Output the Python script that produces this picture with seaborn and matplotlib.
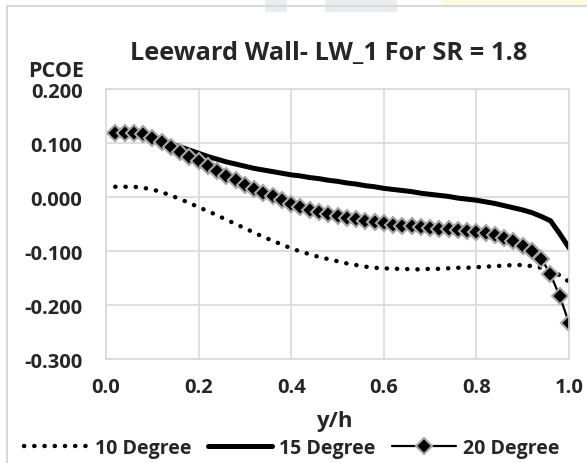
import numpy as np
import pandas as pd
import matplotlib
matplotlib.use("Agg")
import matplotlib.pyplot as plt
import seaborn as sns
from matplotlib.patches import Rectangle
from matplotlib.ticker import FormatStrFormatter, MultipleLocator

# y/h positions (same grid for all series)
y_h = [round(0.02 * i, 2) for i in range(1, 51)]

pcoe_10 = [0.019, 0.019, 0.019, 0.017, 0.014, 0.009, 0.003, -0.004, -0.011, -0.019,
           -0.026, -0.034, -0.042, -0.050, -0.058, -0.066, -0.074, -0.081, -0.088, -0.095,
           -0.101, -0.106, -0.111, -0.115, -0.119, -0.123, -0.126, -0.129, -0.131, -0.132,
           -0.133, -0.133, -0.134, -0.134, -0.133, -0.133, -0.132, -0.131, -0.131, -0.130,
           -0.129, -0.128, -0.127, -0.126, -0.126, -0.128, -0.131, -0.135, -0.145, -0.157]

pcoe_15 = [0.117, 0.118, 0.118, 0.115, 0.109, 0.103, 0.098, 0.093, 0.087, 0.081,
           0.075, 0.070, 0.065, 0.061, 0.057, 0.053, 0.050, 0.047, 0.044, 0.041,
           0.039, 0.036, 0.034, 0.031, 0.029, 0.026, 0.024, 0.021, 0.019, 0.016,
           0.014, 0.012, 0.010, 0.007, 0.005, 0.003, 0.001, -0.002, -0.004, -0.006,
           -0.009, -0.012, -0.016, -0.020, -0.024, -0.029, -0.036, -0.044, -0.068, -0.094]

pcoe_20 = [0.118, 0.119, 0.119, 0.116, 0.109, 0.101, 0.093, 0.084, 0.075, 0.066,
           0.057, 0.048, 0.039, 0.031, 0.023, 0.015, 0.008, 0.001, -0.006, -0.013,
           -0.019, -0.024, -0.028, -0.032, -0.035, -0.038, -0.041, -0.044, -0.047, -0.049,
           -0.051, -0.053, -0.054, -0.056, -0.057, -0.059, -0.060, -0.062, -0.063, -0.065,
           -0.067, -0.070, -0.075, -0.082, -0.090, -0.100, -0.114, -0.143, -0.184, -0.233]

x_ticks = [0.0, 0.2, 0.4, 0.6, 0.8, 1.0]

sns.set_style("white")
plt.rcParams["font.family"] = ["Open Sans", "DejaVu Sans"]
plt.rcParams["font.weight"] = "bold"

W, H = 587, 464
fig = plt.figure(figsize=(W / 100, H / 100), dpi=100)

# faint watermark bits at the top edge
fig.patches.append(Rectangle((442 / W, 1 - 8 / H), 145 / W, 8 / H, transform=fig.transFigure,
                             facecolor="#fffbe0", edgecolor="none", zorder=0))
fig.patches.append(Rectangle((265 / W, 1 - 13 / H), 22 / W, 13 / H, transform=fig.transFigure,
                             facecolor="#e9edf0", edgecolor="none", zorder=0))
fig.patches.append(Rectangle((325 / W, 1 - 13 / H), 72 / W, 13 / H, transform=fig.transFigure,
                             facecolor="#e9edf0", edgecolor="none", zorder=0))
# chart area border (runs off the right / bottom edge)
fig.patches.append(Rectangle((7 / W, -0.1), 1.2, 1.1 - 7 / H, transform=fig.transFigure,
                             facecolor="none", edgecolor="#d9d9d9", lw=1.5, zorder=1))

ax = fig.add_axes([106 / W, 1 - 360 / H, 463 / W, 270 / H])

sns.lineplot(x=y_h, y=pcoe_10, ax=ax, color="black", lw=3.2, linestyle=(0, (0.05, 2.25)),
             dash_capstyle="round", label="10 Degree")
sns.lineplot(x=y_h, y=pcoe_15, ax=ax, color="black", lw=3.6, label="15 Degree")
sns.lineplot(x=y_h, y=pcoe_20, ax=ax, color="black", lw=1.6, marker="D", markersize=8,
             markerfacecolor="black", markeredgecolor="#a6a6a6", markeredgewidth=1.5,
             label="20 Degree")

ax.set_xlim(0, 1.0)
ax.set_ylim(-0.3, 0.2)
ax.set_xticks(x_ticks)
ax.xaxis.set_major_formatter(FormatStrFormatter("%.1f"))
ax.yaxis.set_major_locator(MultipleLocator(0.1))
ax.yaxis.set_major_formatter(FormatStrFormatter("%.3f"))
ax.grid(True, color="#d9d9d9", lw=1.2)
ax.set_axisbelow(True)
for s in ax.spines.values():
    s.set_color("#d9d9d9")
    s.set_linewidth(1.2)
ax.tick_params(axis="both", length=0, labelsize=14.5)
ax.tick_params(axis="x", pad=13)
ax.tick_params(axis="y", pad=17)
for lbl in ax.get_xticklabels() + ax.get_yticklabels():
    lbl.set_fontweight("bold")
ax.set_xlabel("")
ax.set_ylabel("")

fig.text(329 / W, 1 - 60 / H, "Leeward Wall- LW_1 For SR = 1.8", ha="center", va="baseline",
         fontsize=18.3, fontweight="bold")
fig.text(28 / W, 1 - 76.7 / H, "PCOE", ha="left", va="baseline", fontsize=15.5, fontweight="bold")
fig.text(334 / W, 1 - 426.7 / H, "y/h", ha="center", va="baseline", fontsize=16, fontweight="bold")

ax.legend_.remove()
handles, labels = ax.get_legend_handles_labels()
fig.legend(handles, labels, loc="center left", bbox_to_anchor=(24 / W, 1 - 449 / H), ncol=3,
           frameon=False, handlelength=3.3, handletextpad=0.35,
           columnspacing=0.85, borderpad=0, borderaxespad=0, numpoints=1,
           prop={"weight": "bold", "size": 14})

fig.savefig("out.png", dpi=100)
